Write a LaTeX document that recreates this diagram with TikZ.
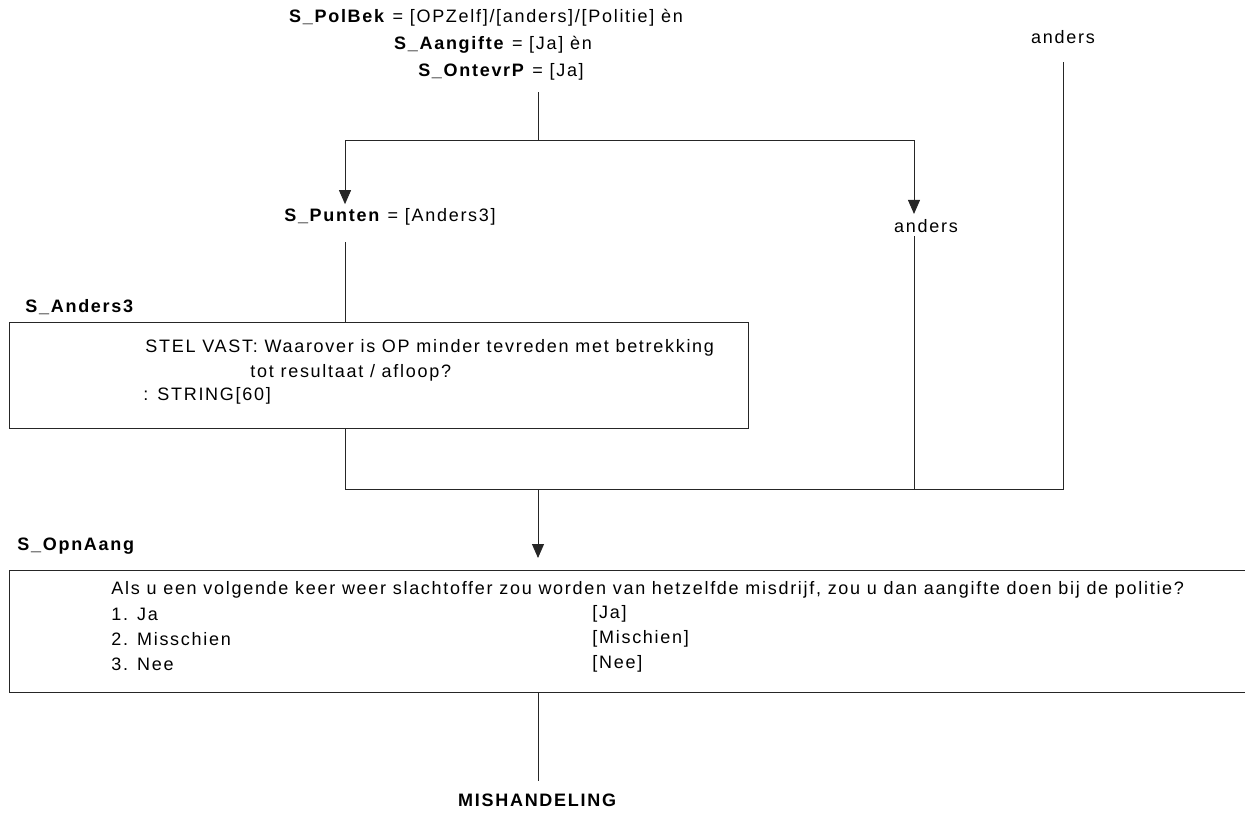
\documentclass[tikz,border=0pt]{standalone}
\usepackage{fontspec}
\setmainfont{Liberation Sans}[LetterSpace=9.5]
\usetikzlibrary{arrows.meta}

\tikzset{
	lbl/.style={inner sep=0pt, font=\fontsize{18}{21}\selectfont},
	box/.style={draw=black!85, line width=0.9pt, inner sep=0pt, anchor=north west},
	arr/.style={-{Triangle[width=12pt,length=14pt]}},
}

\begin{document}
\begin{tikzpicture}[x=1pt, y=-1pt, line width=0.9pt, draw=black!85]
	\useasboundingbox (0,0) rectangle (1245,814);
	
	%%% Voorwaarden
	
	% Bovenaan
	\node[lbl] (cond1) at (486,18) {\textbf{S\_PolBek} = [OPZelf]/[anders]/[Politie] èn};
	\node[lbl] (cond2) at (493,45) {\textbf{S\_Aangifte} = [Ja] èn};
	\node[lbl] (cond3) at (501,72) {\textbf{S\_OntevrP} = [Ja]};
	\node[lbl] (anders1) at (1063,37) {anders};
	
	% Tweede niveau
	\node[lbl] (punten) at (390,217) {\textbf{S\_Punten} = [Anders3]};
	\node[lbl] (anders2) at (926,226) {anders};
	
	%%% Vragen
	
	% S_Anders3
	\node[lbl, anchor=west] (anders3lbl) at (25,307) {\textbf{S\_Anders3}};
	\node[box, minimum width=739pt, minimum height=106pt] (anders3) at (9,322) {};
	\node[lbl, anchor=west] (q1a) at (145,348) {STEL VAST: Waarover is OP minder tevreden met betrekking};
	\node[lbl, anchor=west] (q1b) at (250,373) {tot resultaat / afloop?};
	\node[lbl, anchor=west] (q1c) at (143,396) {: STRING[60]};
	
	% S_OpnAang
	\node[lbl, anchor=west] (opnlbl) at (17,546) {\textbf{S\_OpnAang}};
	\node[box, minimum width=1245pt, minimum height=122pt] (opnaang) at (9,570) {};
	\node[lbl, anchor=west] (q2) at (111,590) {Als u een volgende keer weer slachtoffer zou worden van hetzelfde misdrijf, zou u dan aangifte doen bij de politie?};
	\node[lbl, anchor=west] (a1) at (111,614) {1. Ja};
	\node[lbl, anchor=west] (a2) at (111,639) {2. Misschien};
	\node[lbl, anchor=west] (a3) at (111,664) {3. Nee};
	\node[lbl, anchor=west] (c1) at (592,614) {[Ja]};
	\node[lbl, anchor=west] (c2) at (592,639) {[Mischien]};
	\node[lbl, anchor=west] (c3) at (592,664) {[Nee]};
	
	\node[lbl] (mis) at (538,800) {\textbf{MISHANDELING}};
	
	%%% Lijnen
	
	\coordinate (top) at (538,92);
	\coordinate (split) at (538,140);
	\coordinate (splitL) at (345,140);
	\coordinate (splitR) at (914,140);
	\coordinate (p1) at (345,242);
	\coordinate (p2) at (914,236);
	\coordinate (p3) at (1063,62);
	\coordinate (joinL) at (345,489);
	\coordinate (joinM) at (538,489);
	\coordinate (joinR) at (1063,489);
	
	\draw (top) -- (split);
	\draw (splitL) -- (splitR);
	\draw[arr, shorten >=4pt] (splitL) -- (punten.north -| splitL);
	\draw[arr, shorten >=5pt] (splitR) -- (anders2.north -| splitR);
	
	\draw (p1) -- (anders3.north -| p1);
	\draw (anders3.south -| joinL) -- (joinL) -- (joinR) -- (p3);
	\draw (p2) -- (p2 |- joinL);
	\draw[arr, shorten >=12pt] (joinM) -- (opnaang.north -| joinM);
	\draw[shorten >=12pt] (opnaang.south -| joinM) -- (mis.north);
\end{tikzpicture}
\end{document}
